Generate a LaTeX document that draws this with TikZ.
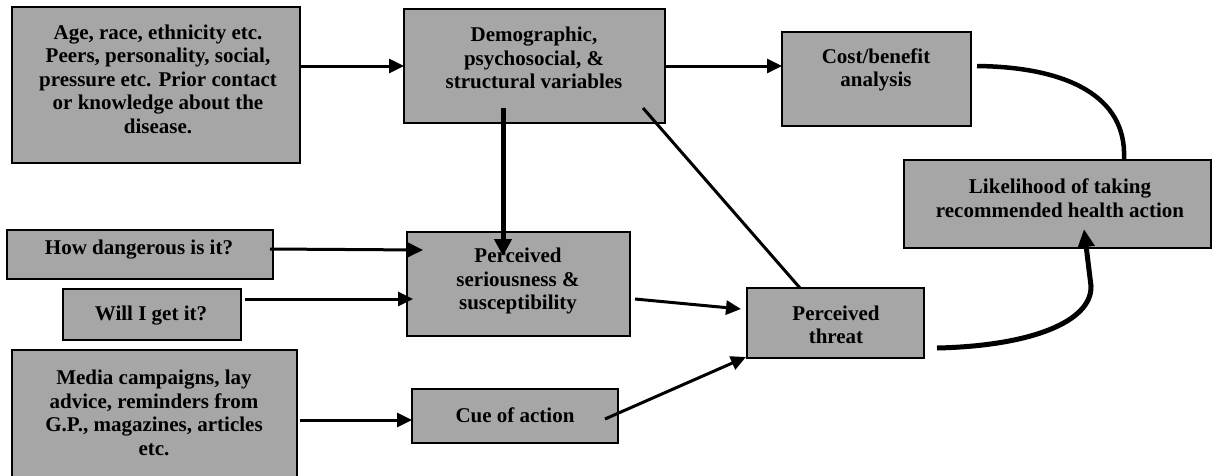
\documentclass[tikz,border=0pt]{standalone}
\usepackage{fontspec}
\setmainfont{Liberation Serif}
\usetikzlibrary{arrows.meta,calc}
\definecolor{boxgray}{RGB}{166,166,166}
\tikzset{
  box/.style={draw=black, line width=2pt, fill=boxgray, rectangle, inner sep=0pt, outer sep=0pt},
  txt/.style={align=center, inner sep=0pt, font=\bfseries\fontsize{21}{23.5}\selectfont},
  conn/.style={line width=3pt, -{Triangle[length=15pt,width=14pt]}},
  heavy/.style={line width=5pt, -{Triangle[length=17pt,width=17pt]}},
  plainline/.style={line width=3pt},
}
\begin{document}
\begin{tikzpicture}[x=1pt,y=-1pt]
\useasboundingbox (0,0) rectangle (1215,475);
\clip (0,0) rectangle (1215,475);

% boxes
\node[box, minimum width=288, minimum height=156] (A) at (156,85) {};
\node[box, minimum width=261, minimum height=114] (B) at (534.5,66) {};
\node[box, minimum width=189, minimum height=94] (C) at (876.5,79) {};
\node[box, minimum width=307, minimum height=88] (L) at (1057.5,204) {};
\node[box, minimum width=266, minimum height=49] (H) at (140,254.5) {};
\node[box, minimum width=178, minimum height=51] (W) at (152,314.5) {};
\node[box, minimum width=223, minimum height=104] (P) at (518.5,284) {};
\node[box, minimum width=206, minimum height=54] (Q) at (515,416) {};
\node[box, minimum width=177, minimum height=70] (T) at (835.5,323) {};
\node[box, minimum width=285, minimum height=140] (M) at (154.5,420) {};

% texts
\node[txt] (At) at (158,79) {Age, race, ethnicity etc.\\Peers, personality, social,\\pressure etc. Prior contact\\or knowledge about the\\disease.};
\node[txt] (Bt) at (534,58) {Demographic,\\psychosocial, \&\\structural variables};
\node[txt] (Ct) at (876,70) {Cost/benefit\\analysis};
\node[txt] (Lt) at (1060,198) {Likelihood of taking\\recommended health action};
\node[txt] (Ht) at (139,250) {How dangerous is it?};
\node[txt] (Wt) at (151,316) {Will I get it?};
\node[txt] (Pt) at (518,281) {Perceived\\seriousness \&\\susceptibility};
\node[txt] (Qt) at (515,415) {Cue of action};
\node[txt] (Tt) at (836,325) {Perceived\\threat};
\node[txt] (Mt) at (154,413) {Media campaigns, lay\\advice, reminders from\\G.P., magazines, articles\\etc.};

% connector end points
\coordinate (Bdown) at (503,108);
\coordinate (Pin) at (503,256);
\coordinate (Bdiag) at (643,108);
\coordinate (Hout) at (270,249);
\coordinate (Hin) at (423,250);
\coordinate (Wout) at (245,299);
\coordinate (Win) at (413,299);
\coordinate (Mout) at (300,420);
\coordinate (Pout) at (635,299);
\coordinate (Tin1) at (741,309);
\coordinate (Qout) at (605,419);
\coordinate (Tin2) at (746,357);
\coordinate (Cout) at (977,66);
\coordinate (Ltop) at (1124,159);
\coordinate (Tout) at (937,348);
\coordinate (Lbend) at (1091,286);
\coordinate (Lin) at (1084,229);

% connectors
\draw[conn] (A.east |- B.west) -- (B.west);
\draw[conn] (B.east) -- (B.east -| C.west);
\draw[heavy] (Bdown) -- (Pin);
\draw[plainline] (Bdiag) -- (T.north -| 800,0);
\draw[conn] (Hout) -- (Hin);
\draw[conn] (Wout) -- (Win);
\draw[conn] (Mout) -- (Mout -| Q.west);
\draw[conn] (Pout) -- (Tin1);
\draw[conn] (Qout) -- (Tin2);
\draw[line width=4.5pt] (Cout) .. controls (1065,67) and (1127,95) .. (Ltop);
\draw[line width=5pt, -{Triangle[length=18pt,width=16pt]}] (Tout) .. controls (1030,346) and (1092,322) .. (Lbend) -- (Lin);
\end{tikzpicture}
\end{document}
